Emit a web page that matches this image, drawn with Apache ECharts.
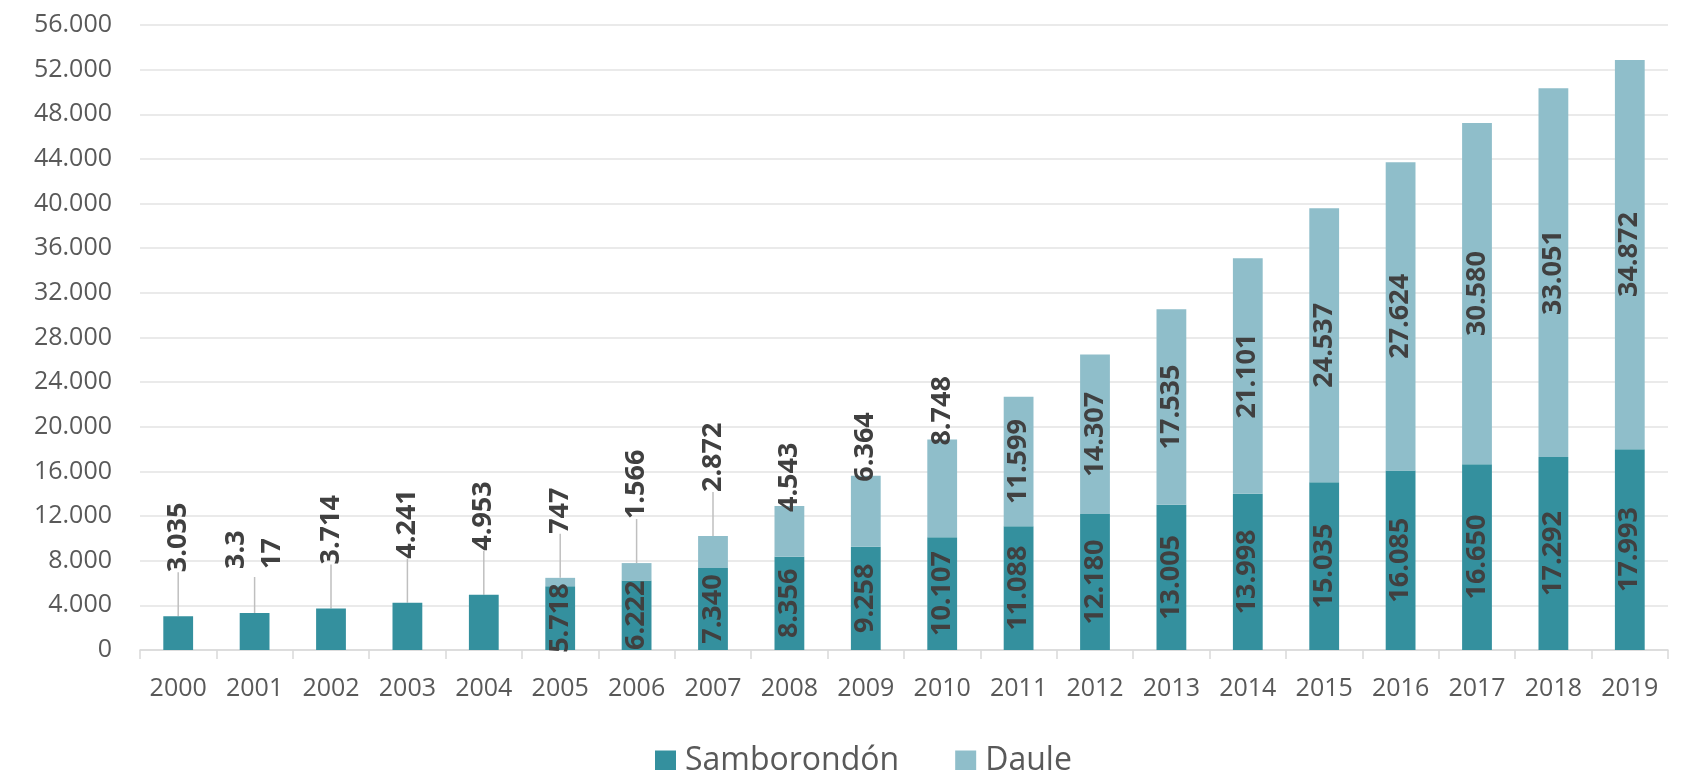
<!DOCTYPE html>
<html><head><meta charset="utf-8">
<script src="https://cdn.jsdelivr.net/npm/echarts@6/dist/echarts.min.js"></script>
<style>html,body{margin:0;padding:0;background:#fff}#c{width:1691px;height:770px}</style>
</head><body><div id="c"></div>
<script>
const years = ['2000','2001','2002','2003','2004','2005','2006','2007','2008','2009','2010','2011','2012','2013','2014','2015','2016','2017','2018','2019'];
const samborondon = [3035,3317,3714,4241,4953,5718,6222,7340,8356,9258,10107,11088,12180,13005,13998,15035,16085,16650,17292,17993];
const daule = [null,null,null,null,null,747,1566,2872,4543,6364,8748,11599,14307,17535,21101,24537,27624,30580,33051,34872];
const yMin = 0, yMax = 56000, yStep = 4000;
const seriesNames = ['Samborondón','Daule'];

const C_DARK = '#34909e', C_LIGHT = '#8fbeca';
const FONT = '"Open Sans", "Liberation Sans", sans-serif';

function fmt(v){ return String(v).replace(/\B(?=(\d{3})+(?!\d))/g,'.'); }

const outsideLabel = {position:'top', distance:36, align:'left', verticalAlign:'middle', padding:[0,8]};
const sData = samborondon.map((v,i)=>{
  if (daule[i] != null) return {value:v};
  const lab = Object.assign({}, outsideLabel);
  if (i === 1) { lab.width = 46; lab.overflow = 'breakAll'; lab.lineHeight = 36; }
  return {value:v, label:lab, labelLine:{show:true}};
});
const dData = daule.map(v=>{
  if (v == null) return '-';
  if (v < 4000) return {value:v, label:Object.assign({}, outsideLabel), labelLine:{show:true}};
  if (v < 10000) return {value:v, label:{position:'top', distance:-6, align:'left', verticalAlign:'middle'}};
  return {value:v};
});

const baseLabel = {
  show:true, position:'inside', rotate:90, color:'#404040',
  fontFamily:FONT, fontWeight:'bold', fontSize:27,
  formatter: p => fmt(p.value)
};
const labelLine = {lineStyle:{color:'#bfbfbf', width:1.5}};

const chart = echarts.init(document.getElementById('c'), null, {renderer:'canvas'});
chart.setOption({
  animation:false,
  backgroundColor:'#fff',
  grid:{left:140, right:23, top:25, bottom:120, containLabel:false},
  legend:{
    data:seriesNames, icon:'rect', itemWidth:21, itemHeight:21, itemGap:56,
    left:650, top:740,
    textStyle:{fontFamily:FONT, fontSize:32, color:'#595959', padding:[0,0,0,4]}
  },
  xAxis:{
    type:'category', data:years, boundaryGap:true,
    axisLine:{lineStyle:{color:'#d9d9d9', width:1.5}},
    axisTick:{show:true, length:9, lineStyle:{color:'#d9d9d9', width:1.5}},
    axisLabel:{fontFamily:FONT, fontSize:25, color:'#595959', margin:26}
  },
  yAxis:{
    type:'value', min:yMin, max:yMax, interval:yStep,
    axisLine:{show:false}, axisTick:{show:false},
    splitLine:{lineStyle:{color:'#e3e3e3', width:1.5}},
    axisLabel:{fontFamily:FONT, fontSize:25, color:'#595959', margin:28, formatter:v=>fmt(v)}
  },
  series:[
    {name:seriesNames[0], type:'bar', stack:'total', barWidth:'39%', data:sData,
     itemStyle:{color:C_DARK}, label:baseLabel, labelLine:labelLine},
    {name:seriesNames[1], type:'bar', stack:'total', barWidth:'39%', data:dData,
     itemStyle:{color:C_LIGHT}, label:baseLabel, labelLine:labelLine}
  ]
});
</script></body></html>
